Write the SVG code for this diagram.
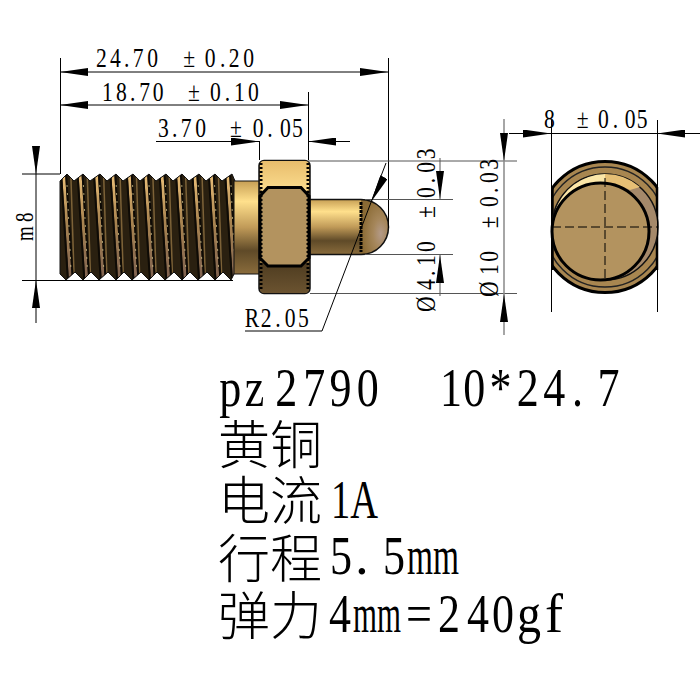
<svg xmlns="http://www.w3.org/2000/svg" width="700" height="700" viewBox="0 0 700 700">
<style>
.d{stroke:#000;stroke-width:1;fill:none}
.g{stroke:#555;stroke-width:1;fill:none}
.a{marker-start:url(#as)}
.b{marker-end:url(#ae)}
.t{font-family:"Liberation Serif",serif;font-size:27px;fill:#000}
.big{font-family:"Liberation Serif","Noto Sans CJK SC",serif;font-size:55px;fill:#000}
.cjk{font-family:"Noto Sans CJK SC",sans-serif;font-size:52px;font-weight:300}
</style>
<defs>
<marker id="as" markerUnits="userSpaceOnUse" markerWidth="28" markerHeight="8" viewBox="0 0 28 8" refX="0" refY="4" orient="auto"><path d="M0 4L28 0V8z"/></marker>
<marker id="ae" markerUnits="userSpaceOnUse" markerWidth="28" markerHeight="8" viewBox="0 0 28 8" refX="28" refY="4" orient="auto"><path d="M28 4L0 0V8z"/></marker>
<linearGradient id="cyl" x1="0" y1="0" x2="0" y2="1">
<stop offset="0" stop-color="#c79f55"/><stop offset=".22" stop-color="#ffe08c"/><stop offset=".5" stop-color="#c09a58"/><stop offset=".75" stop-color="#5f4a28"/><stop offset="1" stop-color="#8a6c3c"/>
</linearGradient>
<linearGradient id="top" x1="0" y1="0" x2="0" y2="1"><stop offset="0" stop-color="#e8bd6c"/><stop offset="1" stop-color="#fbdc8e"/></linearGradient>
<linearGradient id="bot" x1="0" y1="0" x2="0" y2="1"><stop offset="0" stop-color="#4e3c20"/><stop offset="1" stop-color="#6b5330"/></linearGradient>
<linearGradient id="st" x1="0" y1="0" x2="0" y2="1"><stop offset="0" stop-color="#eec27a"/><stop offset=".45" stop-color="#a98450"/><stop offset="1" stop-color="#7d6050"/></linearGradient>
<radialGradient id="dome" cx=".72" cy=".62" r=".7"><stop offset="0" stop-color="#b39a88"/><stop offset=".4" stop-color="#a5865a"/><stop offset="1" stop-color="#8a6a34"/></radialGradient>
<clipPath id="th"><path d="M60 181L67 174L74 181L83 174L90 181L100 174L107 181L116 174L123 181L133 174L140 181L149 174L156 181L166 174L173 181L182 174L189 181L199 174L206 181L215 174L222 181L232 174L235 181V272L231 280L223 272L215 280L207 272L198 280L190 272L182 280L174 272L165 280L157 272L149 280L141 272L132 280L124 272L116 280L108 272L99 280L91 272L83 280L75 272L66 280L60 274Z"/></clipPath>
<g id="tooth">
<path d="M2 172L5 172L12 282L9 282Z" fill="url(#st)"/>
<path d="M10 172L11.500 172L15 282L13.500 282Z" fill="#7d6238"/>
<path d="M0 172L2 172L9 282L7 282Z" fill="#0e0a05"/>
<path d="M5 172L7 172L14 282L12 282Z" fill="#0e0a05"/>
<path d="M7 185L11 270" stroke="#e8d79a" stroke-width=".7" stroke-dasharray="2 6" fill="none"/>
</g>
<clipPath id="flat"><rect x="551" y="155" width="107" height="145"/></clipPath>
</defs>
<rect width="700" height="700" fill="#fff"/>

<g id="thread">
<g clip-path="url(#th)">
<rect x="58" y="170" width="180" height="114" fill="#2a2010"/>
<use href="#tooth" x="60"/><use href="#tooth" x="76.400"/><use href="#tooth" x="92.800"/><use href="#tooth" x="109.200"/><use href="#tooth" x="125.600"/><use href="#tooth" x="142"/><use href="#tooth" x="158.400"/><use href="#tooth" x="174.800"/><use href="#tooth" x="191.200"/><use href="#tooth" x="207.600"/><use href="#tooth" x="224"/>
</g>
<path d="M60 181L67 174L74 181L83 174L90 181L100 174L107 181L116 174L123 181L133 174L140 181L149 174L156 181L166 174L173 181L182 174L189 181L199 174L206 181L215 174L222 181L232 174L235 181V272L231 280L223 272L215 280L207 272L198 280L190 272L182 280L174 272L165 280L157 272L149 280L141 272L132 280L124 272L116 280L108 272L99 280L91 272L83 280L75 272L66 280L60 274Z" fill="none" stroke="#111" stroke-width="1"/>
</g>
<g id="neck"><rect x="234" y="181" width="26" height="93" fill="url(#cyl)" stroke="#111" stroke-width="1"/></g>
<g id="pin">
<path d="M310 199.500H361A27.500 27.500 0 0 1 361 254.500H310Z" fill="url(#cyl)"/>
<path d="M361 199.500A27.500 27.500 0 0 1 361 254.500Z" fill="url(#dome)"/>
<path d="M310 199.500H361A27.500 27.500 0 0 1 361 254.500H310" fill="none" stroke="#111" stroke-width="1.500"/>
<path d="M361 202V252" stroke="#000" stroke-width="3" stroke-dasharray="3 1" fill="none"/>
</g>
<g id="hex">
<rect x="259" y="160.500" width="51" height="133" rx="5" fill="#8a6c3c" stroke="#111" stroke-width="1.500"/>
<rect x="260" y="161" width="49" height="30" rx="4" fill="url(#top)"/>
<rect x="260" y="263" width="49" height="30" rx="4" fill="url(#bot)"/>
<path d="M268 187.500H301L309 196V258L301 266H268L260 258V196Z" fill="#b3935f" stroke="#000" stroke-width="3"/>
<path d="M261 163V291M308 163V291" stroke="#000" stroke-width="3" stroke-dasharray="2 2" fill="none"/>
</g>
<g id="endview">
<g clip-path="url(#flat)"><circle cx="605" cy="227" r="65.500" fill="#a88650" stroke="#000" stroke-width="3"/>
<circle cx="605" cy="227" r="60" fill="#a88650" stroke="#222" stroke-width="1.500"/></g>
<path d="M552.500 187V270M657 187V270" stroke="#000" stroke-width="2.500" fill="none"/>
<circle cx="605" cy="227" r="53" fill="#a5896a" stroke="#111" stroke-width="1.500"/>
<path d="M555 212A53 53 0 0 1 605 174V184A50 50 0 0 0 555 212Z" fill="#fbe6a8"/>
<path d="M605 174A53 53 0 0 1 640 187L630 190A46 46 0 0 0 605 184Z" fill="#e6bf75"/>
<circle cx="600.500" cy="231.500" r="48.500" fill="#b3935f" stroke="#000" stroke-width="3"/>
<path d="M552 227H658M605 178V282" stroke="#000" stroke-width="1" stroke-dasharray="9 4" fill="none"/>
</g>

<g id="connectors">
<path class="d" d="M60.500 58V174"/>
<path class="d" d="M388.500 58V228"/>
<path class="d" d="M308.500 92V160"/>
<path class="d" d="M259.500 141V160"/>
<line class="d a b" x1="60" y1="72" x2="388" y2="72"/>
<line class="d a b" x1="60" y1="105" x2="308" y2="105"/>
<line class="d a" x1="259" y1="141.500" x2="156" y2="141.500"/>
<line class="d a" x1="308" y1="141.500" x2="350" y2="141.500"/>
<path class="d" d="M22 174H60M22 280.500H233"/>
<line class="d a" x1="36" y1="174" x2="36" y2="147"/>
<line class="d a" x1="36" y1="280" x2="36" y2="323"/>
<path class="d" d="M36 174V280"/>
<path class="g" d="M308 161H517M310 293.500H517"/>
<path class="g" d="M365 199.500H453M365 254.500H453"/>
<line class="g a" x1="440" y1="199" x2="440" y2="158"/>
<line class="g a" x1="440" y1="255" x2="440" y2="296"/>
<line x1="504" y1="119" x2="504" y2="335" stroke="#888" stroke-width="1.500"/>
<path d="M504 161L504 134" class="a" fill="none" stroke="none"/>
<path d="M504 294L504 321" class="a" fill="none" stroke="none"/>
<path class="d" d="M245 331H322L386 163"/>
<line class="a" x1="371" y1="202" x2="384" y2="177" stroke="none"/>
<path class="d" d="M551.500 120V312M657.500 120V312"/>
<line class="d a" x1="551" y1="133.500" x2="509" y2="133.500"/>
<line class="d a" x1="657" y1="133.500" x2="700" y2="133.500"/>
<path class="d" d="M551 133.500H657"/>
</g>

<g id="labels">
<text class="t" transform="translate(0,67) scale(.8,1)" x="120 137.500 155 166 184 212 229 256 275 286 304">24.70 ±0.20</text>
<text class="t" transform="translate(0,100.500) scale(.8,1)" x="127.500 145 162.500 174 191 220 235 262.500 281 292.500 310">18.70 ±0.10</text>
<text class="t" transform="translate(0,137) scale(.8,1)" x="197.500 215 226 244 262 287.500 316 334 350 365">3.70 ±0.05</text>
<text class="t" transform="translate(0,128) scale(.8,1)" x="680 700 721 747.500 766 781 796">8 ±0.05</text>
<text class="t" transform="translate(0,327) scale(.8,1)" x="306 326 344 356 372.500">R2.05</text>
<text class="t" transform="translate(33,241) rotate(-90) scale(.7,.9)" x="0 27">m8</text>
<text class="t" transform="translate(435,312) rotate(-90) scale(.8,1)" x="0 27.500 45 57.500 75 97.500 117.500 142.500 161 174 191">Ø4.10 ±0.03</text>
<text class="t" transform="translate(498,297) rotate(-90) scale(.8,1)" x="0 27.500 44 65 86 112.500 130 142.500 159">Ø10 ±0.03</text>
</g>
<g id="spec">
<text class="big" transform="translate(0,406) scale(.8,1)" x="274 306 344 379 412 446 500 550 579 612 646 679 715 747">pz2790 10*24.7</text>
<text class="big" y="464" x="218"><tspan class="cjk">黄铜</tspan></text>
<text class="big" y="520" x="218"><tspan class="cjk">电流</tspan><tspan x="331" y="518" textLength="47" lengthAdjust="spacingAndGlyphs">1A</tspan></text>
<text class="big" y="578" x="218"><tspan class="cjk">行程</tspan><tspan x="330" y="574" textLength="22" lengthAdjust="spacingAndGlyphs">5</tspan><tspan x="355" y="574">.</tspan><tspan x="383" y="574" textLength="22" lengthAdjust="spacingAndGlyphs">5</tspan><tspan x="407" y="574" textLength="52" lengthAdjust="spacingAndGlyphs">mm</tspan></text>
<text class="big" y="635" x="218"><tspan class="cjk">弹力</tspan><tspan x="329" y="632" textLength="22" lengthAdjust="spacingAndGlyphs">4</tspan><tspan x="353" y="632" textLength="48" lengthAdjust="spacingAndGlyphs">mm</tspan><tspan x="406" y="632" textLength="26" lengthAdjust="spacingAndGlyphs">=</tspan><tspan x="438" y="632" textLength="22" lengthAdjust="spacingAndGlyphs">2</tspan><tspan x="467" y="632" textLength="22" lengthAdjust="spacingAndGlyphs">4</tspan><tspan x="492" y="632" textLength="22" lengthAdjust="spacingAndGlyphs">0</tspan><tspan x="517" y="632" textLength="24" lengthAdjust="spacingAndGlyphs">g</tspan><tspan x="545" y="632" textLength="18" lengthAdjust="spacingAndGlyphs">f</tspan></text>
</g>
</svg>
